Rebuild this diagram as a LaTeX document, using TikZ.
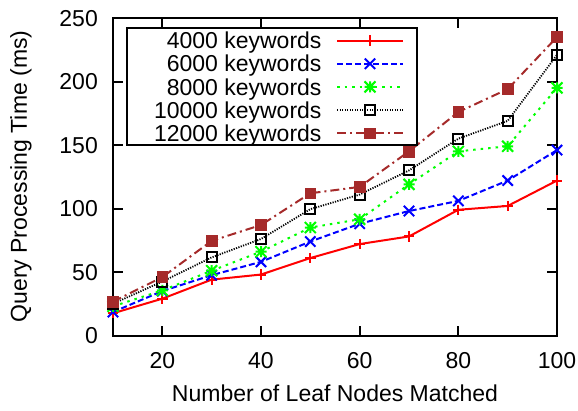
\documentclass[tikz,border=0pt]{standalone}
\usepackage{fontspec}
\setmainfont{Liberation Sans}
\usetikzlibrary{plotmarks}
\definecolor{gpbrown}{HTML}{A52A2A}
\definecolor{gpgreen}{RGB}{0,255,0}
\pgfdeclareplotmark{gpstar}{%
  \pgfpathmoveto{\pgfqpoint{-\pgfplotmarksize}{0pt}}\pgfpathlineto{\pgfqpoint{\pgfplotmarksize}{0pt}}%
  \pgfpathmoveto{\pgfqpoint{0pt}{-\pgfplotmarksize}}\pgfpathlineto{\pgfqpoint{0pt}{\pgfplotmarksize}}%
  \pgfpathmoveto{\pgfqpoint{-\pgfplotmarksize}{-\pgfplotmarksize}}\pgfpathlineto{\pgfqpoint{\pgfplotmarksize}{\pgfplotmarksize}}%
  \pgfpathmoveto{\pgfqpoint{-\pgfplotmarksize}{\pgfplotmarksize}}\pgfpathlineto{\pgfqpoint{\pgfplotmarksize}{-\pgfplotmarksize}}%
  \pgfusepathqstroke}
\tikzset{
  lbl/.style={inner sep=0pt, font=\fontsize{23}{27}\selectfont},
  frameline/.style={line width=2pt, black},
  ln4/.style={red, line width=2pt, solid},
  mk4/.style={red, mark=+, mark size=5.2pt, mark options={solid, line width=2pt}},
  ln6/.style={blue, line width=2pt, dash pattern=on 6pt off 3pt},
  mk6/.style={blue, mark=x, mark size=7.3pt, mark options={solid, line width=2pt}},
  ln8/.style={gpgreen, line width=2pt, dash pattern=on 2.5pt off 5pt},
  mk8/.style={gpgreen, mark=gpstar, mark size=5.5pt, mark options={solid, line width=2pt}},
  ln10/.style={black, line width=1.8pt, dash pattern=on 1.2pt off 1.3pt},
  mk10/.style={black, mark=square, mark size=5pt, mark options={solid, line width=2pt}},
  ln12/.style={gpbrown, line width=2pt, dash pattern=on 9pt off 4pt on 2pt off 4pt},
  mk12/.style={gpbrown, mark=square*, mark size=5.4pt, mark options={solid, line width=0.5pt, fill=gpbrown}},
}
\begin{document}
\begin{tikzpicture}[x=1pt,y=-1pt]
\useasboundingbox (0,0) rectangle (578,410);
% frame
\draw[frameline] (113,18) rectangle (557,335.5);
% x ticks and labels
\foreach \v in {20,40,60,80}{
  \pgfmathsetmacro{\X}{63.667+4.9333*\v}
  \draw[frameline] (\X,335.5) -- (\X,325.5);
  \draw[frameline] (\X,18) -- (\X,28);
}
\foreach \v in {20,40,60,80,100}{
  \pgfmathsetmacro{\X}{63.667+4.9333*\v}
  \node[lbl, anchor=base] (xt\v) at (\X,368) {\v};
}
% y ticks and labels
\foreach \v in {50,100,150,200}{
  \pgfmathsetmacro{\Y}{335.5-1.27*\v}
  \draw[frameline] (113,\Y) -- (123,\Y);
  \draw[frameline] (557,\Y) -- (547,\Y);
}
\foreach \v in {0,50,100,150,200,250}{
  \pgfmathsetmacro{\Y}{335.5-1.27*\v+8.2}
  \node[lbl, anchor=base east] (yt\v) at (98,\Y) {\v};
}
% axis labels
\node[lbl, anchor=base] (xlabel) at (335,401) {Number of Leaf Nodes Matched};
\node[lbl, anchor=base, rotate=90] (ylabel) at (27,176.5) {Query Processing Time (ms)};
% data
\begin{scope}[shift={(63.667,335.5)}, x=4.9333pt, y=1.27pt]
\draw[ln4] plot coordinates {(10,17.5)(20,29)(30,44)(40,48)(50,61)(60,72)(70,78)(80,99)(90,102)(100,122)};
\path[mk4] plot[only marks] coordinates {(10,17.5)(20,29)(30,44)(40,48)(50,61)(60,72)(70,78)(80,99)(90,102)(100,122)};
\draw[ln6] plot coordinates {(10,18.5)(20,35)(30,47.5)(40,58)(50,74)(60,88)(70,98)(80,106)(90,122)(100,146)};
\path[mk6] plot[only marks] coordinates {(10,18.5)(20,35)(30,47.5)(40,58)(50,74)(60,88)(70,98)(80,106)(90,122)(100,146)};
\draw[ln8] plot coordinates {(10,23)(20,35.5)(30,51)(40,66)(50,85)(60,91.5)(70,119)(80,145)(90,149)(100,195)};
\path[mk8] plot[only marks] coordinates {(10,23)(20,35.5)(30,51)(40,66)(50,85)(60,91.5)(70,119)(80,145)(90,149)(100,195)};
\draw[ln10] plot coordinates {(10,25)(20,42.5)(30,61.5)(40,76)(50,99.5)(60,111)(70,130)(80,155)(90,169)(100,221)};
\path[mk10] plot[only marks] coordinates {(10,25)(20,42.5)(30,61.5)(40,76)(50,99.5)(60,111)(70,130)(80,155)(90,169)(100,221)};
\draw[ln12] plot coordinates {(10,26.6)(20,46)(30,74.5)(40,87)(50,112)(60,117)(70,145)(80,176)(90,194)(100,235)};
\path[mk12] plot[only marks] coordinates {(10,26.6)(20,46)(30,74.5)(40,87)(50,112)(60,117)(70,145)(80,176)(90,194)(100,235)};
\end{scope}
% legend
\draw[frameline, fill=white] (126.7,28.3) rectangle (417.3,145);
\node[lbl, anchor=base east] (lg4) at (321.7,48.7) {4000 keywords};
\node[lbl, anchor=base east] (lg6) at (321.7,71.9) {6000 keywords};
\node[lbl, anchor=base east] (lg8) at (321.7,95.1) {8000 keywords};
\node[lbl, anchor=base east] (lg10) at (321.7,118.3) {10000 keywords};
\node[lbl, anchor=base east] (lg12) at (321.7,141.5) {12000 keywords};
\coordinate (a4) at (337,40.5);  \coordinate (b4) at (403,40.5);
\coordinate (a6) at (337,63.7);  \coordinate (b6) at (403,63.7);
\coordinate (a8) at (337,86.9);  \coordinate (b8) at (403,86.9);
\coordinate (a10) at (337,110.1); \coordinate (b10) at (403,110.1);
\coordinate (a12) at (337,133.3); \coordinate (b12) at (403,133.3);
\draw[ln4] (a4) -- (b4);   \path[mk4] plot[only marks] coordinates {(370,40.5)};
\draw[ln6] (a6) -- (b6);   \path[mk6] plot[only marks] coordinates {(370,63.7)};
\draw[ln8] (a8) -- (b8);   \path[mk8] plot[only marks] coordinates {(370,86.9)};
\draw[ln10] (a10) -- (b10); \path[mk10] plot[only marks] coordinates {(370,110.1)};
\draw[ln12] (a12) -- (b12); \path[mk12] plot[only marks] coordinates {(370,133.3)};
\end{tikzpicture}
\end{document}
